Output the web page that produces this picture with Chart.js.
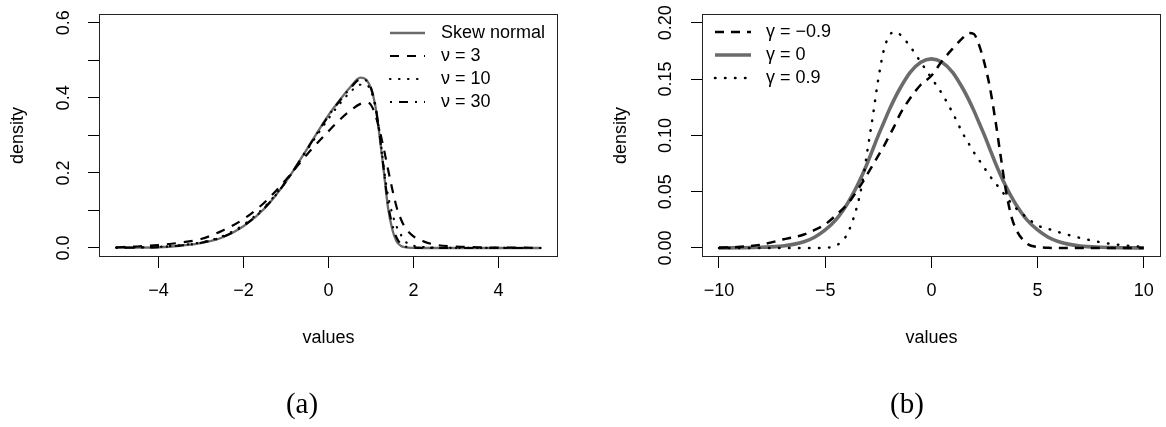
<!DOCTYPE html>
<html>
<head>
<meta charset="utf-8">
<script src="https://cdn.jsdelivr.net/npm/chart.js@4.4.0/dist/chart.umd.min.js"></script>
<style>
  body { margin: 0; background: #fff; }
  #wrap { position: relative; width: 1166px; height: 427px; }
  canvas { position: absolute; top: 0; }
</style>
</head>
<body>
<div id="wrap">
  <canvas id="chartA" width="563" height="427" style="left:0"></canvas>
  <canvas id="chartB" width="563" height="427" style="left:603px"></canvas>
</div>
<script>
// ---- panel (a): skew normal vs skew-t ----
const xA = [-5, -4.5, -4, -3.5, -3, -2.5, -2, -1.5, -1, -0.5, 0, 0.25, 0.5, 0.75, 0.9, 1, 1.1, 1.2, 1.3, 1.4, 1.5, 1.6, 1.7, 1.8, 2, 2.25, 2.5, 3, 3.5, 4, 4.5, 5];
const skewNormal = [0.0005, 0.001, 0.002, 0.006, 0.013, 0.028, 0.058, 0.106, 0.177, 0.265, 0.354, 0.392, 0.427, 0.454, 0.447, 0.425, 0.38, 0.30, 0.205, 0.108, 0.05, 0.018, 0.006, 0.002, 0.0003, 0, 0, 0, 0, 0, 0, 0];
const nu3 = [0.002, 0.004, 0.008, 0.014, 0.024, 0.046, 0.077, 0.122, 0.182, 0.25, 0.311, 0.34, 0.365, 0.384, 0.388, 0.381, 0.355, 0.315, 0.265, 0.21, 0.157, 0.11, 0.078, 0.055, 0.031, 0.017, 0.009, 0.004, 0.002, 0.001, 0.0008, 0.0005];
const nu10 = [0.001, 0.0015, 0.003, 0.007, 0.015, 0.031, 0.062, 0.11, 0.178, 0.262, 0.345, 0.382, 0.414, 0.435, 0.434, 0.418, 0.378, 0.31, 0.215, 0.14, 0.092, 0.058, 0.036, 0.018, 0.006, 0.0025, 0.001, 0.0004, 0.0002, 0.0001, 0, 0];
const nu30 = [0.0007, 0.0012, 0.0025, 0.0065, 0.014, 0.029, 0.059, 0.107, 0.177, 0.264, 0.352, 0.39, 0.424, 0.449, 0.445, 0.426, 0.382, 0.305, 0.21, 0.118, 0.062, 0.028, 0.011, 0.004, 0.001, 0.0003, 0.0001, 0, 0, 0, 0, 0];
const labelsA = ['Skew normal', 'ν = 3', 'ν = 10', 'ν = 30'];
const xTicksA = [-4, -2, 0, 2, 4];
const yTicksA = [0, 0.1, 0.2, 0.3, 0.4, 0.5, 0.6];
const yLabelsA = ['0.0', '', '0.2', '', '0.4', '', '0.6'];

// ---- panel (b): skewness gamma ----
const xB = [-10, -9, -8, -7, -6, -5.5, -5, -4.5, -4, -3.75, -3.5, -3.25, -3, -2.75, -2.5, -2.25, -2, -1.75, -1.5, -1, -0.5, 0, 0.5, 1, 1.5, 1.75, 2, 2.25, 2.5, 2.75, 3, 3.25, 3.5, 3.75, 4, 4.5, 5, 5.5, 6, 7, 8, 9, 10];
const gammaNeg = [0.0002, 0.001, 0.003, 0.0075, 0.012, 0.016, 0.021, 0.029, 0.038, 0.044, 0.051, 0.058, 0.066, 0.074, 0.082, 0.09, 0.099, 0.108, 0.118, 0.133, 0.145, 0.153, 0.166, 0.177, 0.187, 0.191, 0.19, 0.18, 0.164, 0.143, 0.115, 0.083, 0.052, 0.029, 0.016, 0.004, 0.0008, 0.0002, 0, 0, 0, 0, 0];
const gammaZero = [0.0001, 0.0002, 0.0006, 0.0017, 0.0055, 0.0095, 0.016, 0.025, 0.038, 0.046, 0.055, 0.065, 0.076, 0.088, 0.1, 0.111, 0.122, 0.132, 0.141, 0.156, 0.165, 0.168, 0.165, 0.156, 0.141, 0.132, 0.122, 0.111, 0.1, 0.088, 0.076, 0.065, 0.055, 0.046, 0.038, 0.025, 0.016, 0.0095, 0.0055, 0.0017, 0.0006, 0.0002, 0.0001];
const gammaPos = [0, 0, 0, 0, 0, 0, 0.0003, 0.002, 0.011, 0.022, 0.037, 0.058, 0.088, 0.118, 0.15, 0.175, 0.188, 0.192, 0.19, 0.179, 0.165, 0.151, 0.137, 0.12, 0.101, 0.093, 0.085, 0.078, 0.071, 0.064, 0.058, 0.052, 0.046, 0.04, 0.035, 0.027, 0.02, 0.017, 0.014, 0.009, 0.005, 0.0025, 0.001];
const labelsB = ['γ = −0.9', 'γ = 0', 'γ = 0.9'];
const xTicksB = [-10, -5, 0, 5, 10];
const yTicksB = [0, 0.05, 0.1, 0.15, 0.2];
const yLabelsB = ['0.00', '0.05', '0.10', '0.15', '0.20'];

const captions = ['(a)', '(b)'];

const GRAY = '#6b6b6b';
const FONT = '"Liberation Sans", Arial, sans-serif';
const tickFont = { family: FONT, size: 18 };

function pts(xs, ys) {
    return xs.map((x, i) => ({ x: x, y: ys[i] }));
}

function fmtMinus(v) {
    return v < 0 ? '\u2212' + Math.abs(v) : String(v);
}

// box, rotated y labels, legend and caption in the R / LaTeX style
const rFrame = {
    id: 'rframe',
    afterDraw(chart, args, opts) {
        const { ctx, chartArea: a } = chart;
        const y = chart.scales.y;
        ctx.save();
        ctx.strokeStyle = '#222';
        ctx.lineWidth = 1;
        ctx.setLineDash([]);
        ctx.strokeRect(Math.round(a.left) + 0.5, Math.round(a.top) + 0.5,
            Math.round(a.right - a.left) - 1, Math.round(a.bottom - a.top) - 1);

        ctx.fillStyle = '#000';
        ctx.font = '18px ' + FONT;
        ctx.textAlign = 'center';
        ctx.textBaseline = 'middle';
        opts.yTicks.forEach((v, i) => {
            if (!opts.yLabels[i]) return;
            ctx.save();
            ctx.translate(opts.yLabelX, y.getPixelForValue(v));
            ctx.rotate(-Math.PI / 2);
            ctx.fillText(opts.yLabels[i], 0, 0);
            ctx.restore();
        });

        // legend (no box)
        const lg = opts.legend;
        chart.data.datasets.forEach((ds, i) => {
            const ly = lg.y0 + i * lg.dy;
            ctx.beginPath();
            ctx.strokeStyle = ds.borderColor;
            ctx.lineWidth = ds.borderWidth;
            ctx.lineCap = ds.borderCapStyle || 'butt';
            ctx.setLineDash(ds.borderDash || []);
            ctx.moveTo(lg.x0, ly);
            ctx.lineTo(lg.x1, ly);
            ctx.stroke();
            ctx.setLineDash([]);
            ctx.textAlign = 'left';
            ctx.fillText(ds.label, lg.tx, ly);
        });

        // subfigure caption
        ctx.font = '29px "Liberation Serif", serif';
        ctx.textAlign = 'center';
        ctx.fillText(opts.caption, opts.captionX, opts.captionY);
        ctx.restore();
    }
};

function makeChart(id, cfg) {
    const ctx = document.getElementById(id).getContext('2d');
    return new Chart(ctx, {
        type: 'line',
        data: { datasets: cfg.datasets },
        options: {
            responsive: false,
            animation: false,
            devicePixelRatio: 1,
            layout: { padding: { left: 0, right: 5, top: 9, bottom: 0 } },
            elements: {
                point: { radius: 0 },
                line: { cubicInterpolationMode: 'monotone', fill: false }
            },
            plugins: {
                legend: { display: false },
                tooltip: { enabled: false },
                rframe: cfg.frame
            },
            scales: {
                x: {
                    type: 'linear',
                    min: cfg.xMin,
                    max: cfg.xMax,
                    afterBuildTicks: s => { s.ticks = cfg.xTicks.map(v => ({ value: v })); },
                    afterFit: s => { s.height = 170; },
                    ticks: { font: tickFont, color: '#000', padding: 12, maxRotation: 0, autoSkip: false, callback: fmtMinus },
                    grid: { drawOnChartArea: false, drawTicks: true, tickLength: 11, color: '#000' },
                    border: { display: false },
                    title: { display: true, text: 'values', color: '#000', font: tickFont, padding: { top: 0, bottom: 78 } }
                },
                y: {
                    type: 'linear',
                    min: cfg.yMin,
                    max: cfg.yMax,
                    afterBuildTicks: s => { s.ticks = cfg.frame.yTicks.map(v => ({ value: v })); },
                    afterFit: s => { s.width = 99; },
                    ticks: { font: tickFont, color: 'rgba(0,0,0,0)', autoSkip: false, callback: (v, i) => cfg.frame.yLabels[i] },
                    grid: { drawOnChartArea: false, drawTicks: true, tickLength: 11, color: '#000' },
                    border: { display: false },
                    title: { display: true, text: 'density', color: '#000', font: tickFont, padding: { top: 7, bottom: 0 } }
                }
            }
        },
        plugins: [rFrame]
    });
}

document.addEventListener('DOMContentLoaded', () => {
    makeChart('chartA', {
        xMin: -5.4, xMax: 5.4, yMin: -0.024, yMax: 0.624,
        xTicks: xTicksA,
        datasets: [
            { label: labelsA[0], data: pts(xA, skewNormal), borderColor: GRAY, borderWidth: 2.3, order: 1 },
            { label: labelsA[1], data: pts(xA, nu3), borderColor: '#000', borderWidth: 2.2, borderDash: [9, 8] },
            { label: labelsA[2], data: pts(xA, nu10), borderColor: '#000', borderWidth: 2.2, borderDash: [0.5, 8.5], borderCapStyle: 'round' },
            { label: labelsA[3], data: pts(xA, nu30), borderColor: '#000', borderWidth: 2.2, borderDash: [2, 7, 9, 7] }
        ],
        frame: {
            yTicks: yTicksA, yLabels: yLabelsA, yLabelX: 64,
            legend: { x0: 390, x1: 425, tx: 441, y0: 33, dy: 23 },
            caption: captions[0], captionX: 302, captionY: 405
        }
    });

    makeChart('chartB', {
        xMin: -10.8, xMax: 10.8, yMin: -0.008, yMax: 0.208,
        xTicks: xTicksB,
        datasets: [
            { label: labelsB[0], data: pts(xB, gammaNeg), borderColor: '#000', borderWidth: 2.5, borderDash: [9, 7] },
            { label: labelsB[1], data: pts(xB, gammaZero), borderColor: GRAY, borderWidth: 3.6, order: 1 },
            { label: labelsB[2], data: pts(xB, gammaPos), borderColor: '#000', borderWidth: 2.5, borderDash: [0.5, 9.5], borderCapStyle: 'round' }
        ],
        frame: {
            yTicks: yTicksB, yLabels: yLabelsB, yLabelX: 63,
            legend: { x0: 112, x1: 148, tx: 163, y0: 32, dy: 23 },
            caption: captions[1], captionX: 304, captionY: 405
        }
    });
});
</script>
</body>
</html>
